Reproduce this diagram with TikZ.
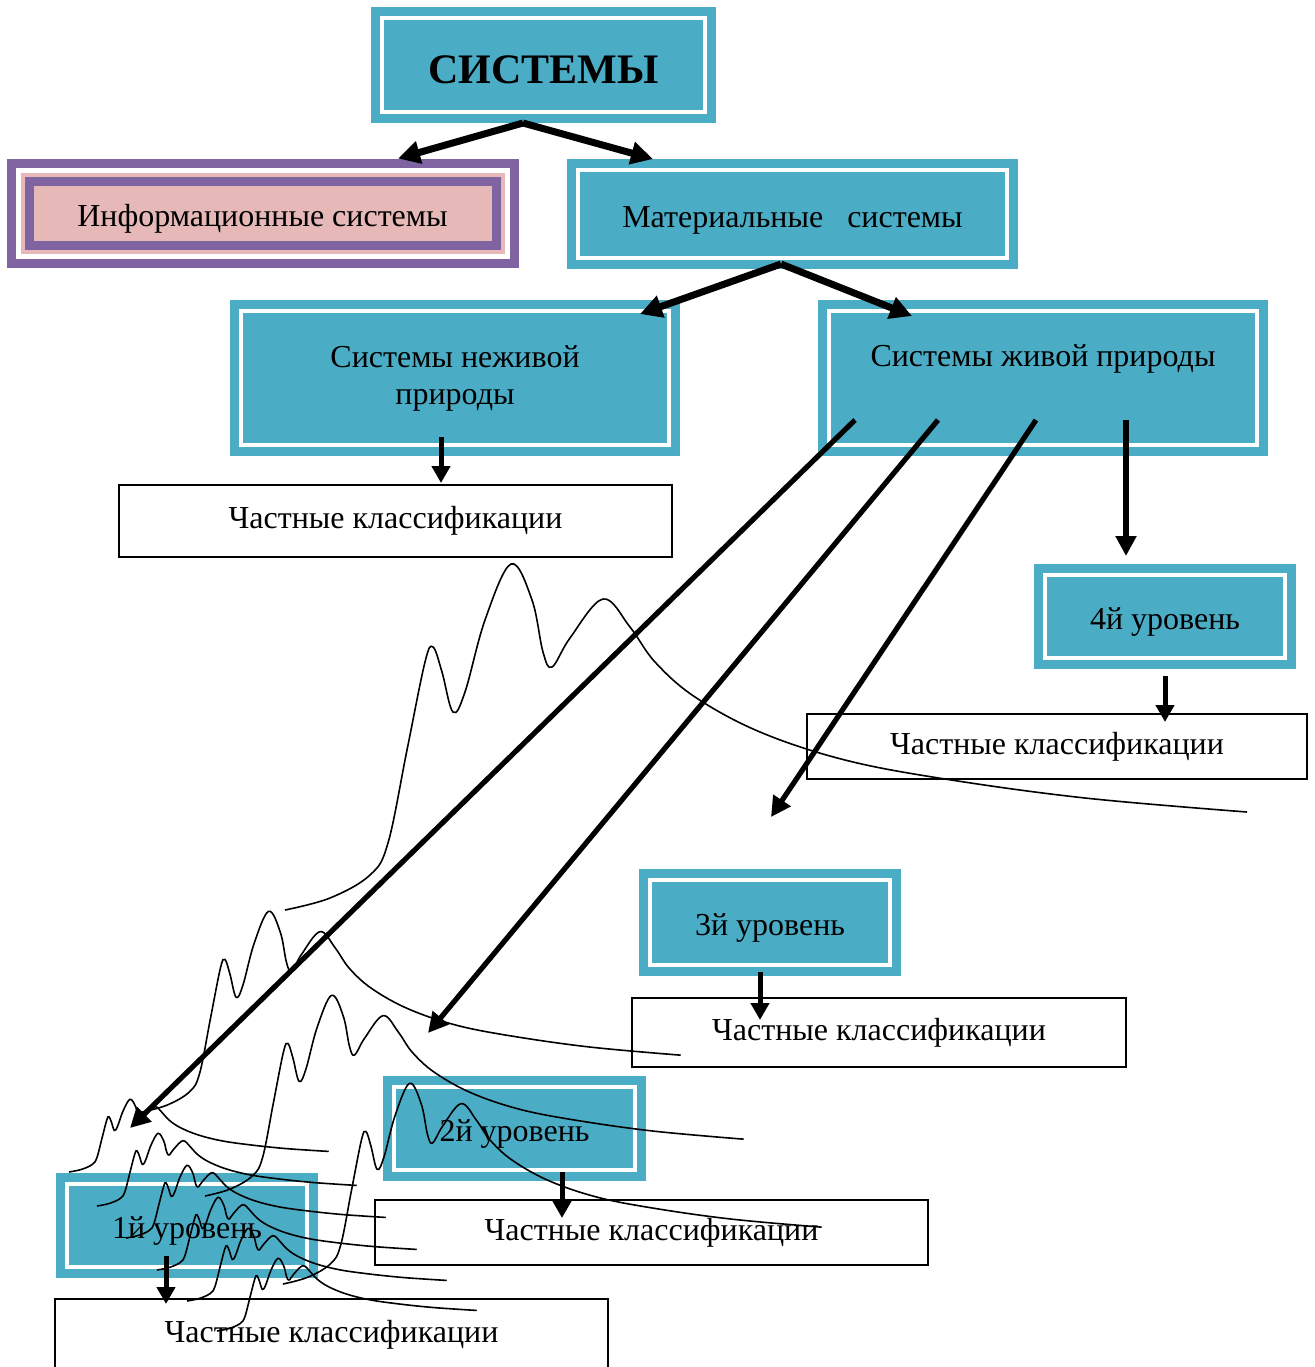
\documentclass[tikz,border=0pt]{standalone}
\usepackage{fontspec}
\setmainfont{Liberation Serif}
\definecolor{systeal}{RGB}{75,172,198}
\definecolor{infopurple}{RGB}{128,100,162}
\definecolor{infopink}{RGB}{230,185,184}
\usetikzlibrary{shapes, arrows.meta, positioning, calc}

\begin{document}
\begin{tikzpicture}[
        x=0.5pt, y=-0.5pt,
        tealbox/.style={fill=systeal, draw=white, line width=1.75pt,
                     preaction={draw=systeal, line width=11pt},
                     inner sep=0pt, outer sep=0pt, align=center,
                     font=\fontsize{16}{18.5}\selectfont},
        onetext/.style={text height=14pt, text depth=1pt},
        infobox/.style={fill=infopink, draw=infopurple, line width=4.5pt,
                     preaction={draw=infopurple, line width=22.5pt},
                     preaction={draw=white, line width=13.5pt},
                     preaction={draw=infopink, line width=8.5pt},
                     inner sep=0pt, outer sep=0pt, onetext,
                     font=\fontsize{16}{18.5}\selectfont},
        clsbox/.style={draw, fill=white, line width=1pt, inner sep=0pt,
                     outer sep=0pt, font=\fontsize{16}{18.5}\selectfont},
        bigarr/.style={-{Triangle[length=11pt,width=11pt]}, line width=3.5pt},
        arr/.style={-{Triangle[length=10pt,width=10pt]}, line width=2.6pt},
        smallarr/.style={-{Triangle[length=8.5pt,width=9pt]}, line width=2.5pt},
        wave/.pic={
          \draw[line width=0.8pt] plot[smooth, tension=0.6] coordinates {
            (0,0) (45,-12) (85,-35) (103,-67) (122,-160) (140,-248)
            (148,-263) (157,-238) (168,-198) (180,-218) (200,-290)
            (226,-346) (247,-310) (258,-258) (267,-243) (285,-272)
            (318,-311) (345,-283) (370,-248) (410,-213) (475,-178)
            (560,-150) (660,-131) (800,-112) (962,-98)};
        }
      ]
        \useasboundingbox (0,0) rectangle (1315,1367);
        \node[tealbox, minimum width=161.5pt, minimum height=47pt,
          text height=18pt, text depth=0pt,
          font=\bfseries\fontsize{21}{24}\selectfont] (sys) at (543.5,65) {СИСТЕМЫ};
        \node[infobox, minimum width=233.5pt, minimum height=31.75pt]
          (inf) at (262.5,213.25) {Информационные системы};
        \node[tealbox, onetext, minimum width=214.5pt, minimum height=44pt]
          (mat) at (792.5,214) {Материальные~~~системы};
        \node[tealbox, minimum width=214pt, minimum height=67pt]
          (nezh) at (455,378) {Системы неживой\\природы};
        \node[tealbox, minimum width=214pt, text height=27.5pt, text depth=39.5pt]
          (zhiv) at (1043,378) {Системы живой природы};
        \node[tealbox, onetext, minimum width=120pt, minimum height=41.5pt]
          (lvl4) at (1165,616.5) {4й уровень};
        \node[tealbox, onetext, minimum width=120pt, minimum height=42.5pt]
          (lvl3) at (770,922.5) {3й уровень};
        \node[tealbox, onetext, minimum width=120.5pt, minimum height=41.5pt]
          (lvl2) at (514.5,1128.5) {2й уровень};
        \node[tealbox, onetext, minimum width=120pt, minimum height=41.5pt]
          (lvl1) at (187,1225.5) {1й уровень};
        \node[clsbox, minimum width=276.5pt, minimum height=36pt]
          (cls0) at (395.5,521) {Частные классификации};
        \node[clsbox, minimum width=250pt, minimum height=32.5pt]
          (cls4) at (1057,746.5) {Частные классификации};
        \node[clsbox, minimum width=247pt, minimum height=34.5pt]
          (cls3) at (879,1032.5) {Частные классификации};
        \node[clsbox, minimum width=276.5pt, minimum height=32.5pt]
          (cls2) at (651.5,1232.5) {Частные классификации};
        \node[clsbox, minimum width=276.5pt, minimum height=35.5pt]
          (cls1) at (331.5,1334.5) {Частные классификации};
        \draw[bigarr] ($(sys.south)+(-20.5,11)$) -- ($(inf.north)+(135.5,-23)$);
        \draw[bigarr] ($(sys.south)+(-20.5,11)$) -- ($(mat.north)+(-139.5,-11)$);
        \draw[bigarr] ($(mat.south)+(-11.5,6)$) -- ($(nezh.north)+(185,3)$);
        \draw[bigarr] ($(mat.south)+(-11.5,6)$) -- ($(zhiv.north)+(-131,5)$);
        \draw[arr] ($(zhiv.south)+(-188,-25)$) -- ($(lvl1.north)+(-57,-56)$);
        \draw[arr] ($(zhiv.south)+(-105,-25)$) -- ($(lvl2.north)+(-86.5,-54)$);
        \draw[arr] ($(zhiv.south)+(-7,-25)$) -- ($(lvl3.north)+(1,-63)$);
        \draw[arr] ($(zhiv.south)+(83,-25)$) -- ($(lvl4.north)+(-39,-19)$);
        \draw[smallarr] ($(nezh.south)+(-14,-8)$) -- ($(cls0.north)+(45.5,-2)$);
        \draw[smallarr] ($(lvl4.south)+(0,18)$) -- ($(cls4.north)+(108,8)$);
        \draw[smallarr] ($(lvl3.south)+(-10,7)$) -- ($(cls3.north)+(-119,22)$);
        \draw[smallarr] ($(lvl2.south)+(47.5,2)$) -- ($(cls2.north)+(-89.5,18)$);
        \draw[smallarr] ($(lvl1.south)+(-21,-11)$) -- ($(cls1.north)+(-165.5,5)$);
        \pic at (285,910) {wave};
        \pic[xscale=0.56, yscale=0.58] at (142,1112) {wave};
        \pic[xscale=0.56, yscale=0.58] at (205,1196) {wave};
        \pic[xscale=0.56, yscale=0.58] at (283,1284) {wave};
        \foreach \sx/\sy in {69/1172, 97/1206, 126/1238, 157/1270, 187/1301, 217/1331}
          \pic[xscale=0.27, yscale=0.21] at (\sx,\sy) {wave};
      \end{tikzpicture}
\end{document}
